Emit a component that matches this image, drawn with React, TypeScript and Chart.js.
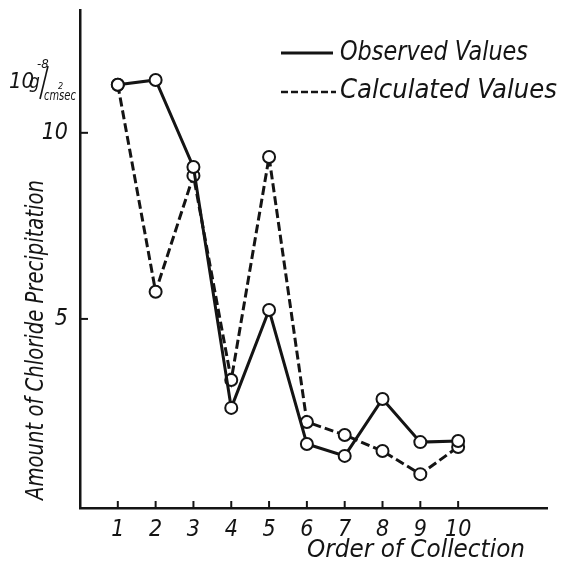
import React, { useEffect, useRef } from "react";
import { Chart, registerables } from "chart.js";

Chart.register(...registerables);

const collectionOrder = [1, 2, 3, 4, 5, 6, 7, 8, 9, 10];
const observedValues = [11.29, 11.42, 9.08, 2.61, 5.24, 1.64, 1.32, 2.85, 1.69, 1.72];
const calculatedValues = [11.29, 5.73, 8.85, 3.36, 9.35, 2.23, 1.88, 1.45, 0.83, 1.56];
const xTickLabels = ["1", "2", "3", "4", "5", "6", "7", "8", "9", "10"];
const yTickValues = [5, 10];
const seriesNames = ["Observed Values", "Calculated Values"];
const xTitle = "Order of Collection";
const yTitle = "Amount of Chloride Precipitation";

const FONT = '"Liberation Sans Narrow", "DejaVu Sans Condensed", sans-serif';
const INK = "#141414";

function fitText(ctx: CanvasRenderingContext2D, text: string, x: number, y: number, w: number) {
  const m = ctx.measureText(text).width;
  ctx.save();
  ctx.translate(x, y);
  ctx.scale(w / m, 1);
  ctx.fillText(text, 0, 0);
  ctx.restore();
}

const decor = {
  id: "decor",
  afterDraw(chart: any) {
    const ctx: CanvasRenderingContext2D = chart.ctx;
    const xs = chart.scales.x;
    const ys = chart.scales.y;
    const area = chart.chartArea;
    ctx.save();
    ctx.strokeStyle = INK;
    ctx.fillStyle = INK;
    ctx.lineWidth = 2;
    // inward tick marks
    collectionOrder.forEach((v) => {
      const px = xs.getPixelForValue(v);
      ctx.beginPath();
      ctx.moveTo(px, area.bottom);
      ctx.lineTo(px, area.bottom - 7);
      ctx.stroke();
    });
    yTickValues.forEach((v) => {
      const py = ys.getPixelForValue(v);
      ctx.beginPath();
      ctx.moveTo(area.left, py);
      ctx.lineTo(area.left + 8, py);
      ctx.stroke();
    });
    // legend
    ctx.lineWidth = 3;
    ctx.setLineDash([]);
    ctx.beginPath();
    ctx.moveTo(281, 53);
    ctx.lineTo(333, 53);
    ctx.stroke();
    ctx.lineWidth = 2.5;
    ctx.setLineDash([7, 3]);
    ctx.beginPath();
    ctx.moveTo(281, 92);
    ctx.lineTo(336, 92);
    ctx.stroke();
    ctx.setLineDash([]);
    ctx.textBaseline = "middle";
    ctx.textAlign = "left";
    ctx.font = `italic 26px ${FONT}`;
    fitText(ctx, seriesNames[0], 340, 53, 188);
    fitText(ctx, seriesNames[1], 340, 91, 217);
    // x title
    ctx.font = `italic 24px ${FONT}`;
    fitText(ctx, xTitle, 307, 551, 218);
    // y title
    ctx.save();
    ctx.translate(37, 500);
    ctx.rotate(-Math.PI / 2);
    ctx.font = `italic 24px ${FONT}`;
    fitText(ctx, yTitle, 0, 0, 320);
    ctx.restore();
    // units label
    ctx.textBaseline = "alphabetic";
    ctx.font = `italic 22px ${FONT}`;
    ctx.fillText("10", 9, 88);
    ctx.font = `italic 19px ${FONT}`;
    ctx.fillText("g", 29, 88);
    ctx.font = `italic 13px ${FONT}`;
    ctx.fillText("-8", 37, 68);
    ctx.lineWidth = 1.6;
    ctx.beginPath();
    ctx.moveTo(48, 66);
    ctx.lineTo(40, 99);
    ctx.stroke();
    ctx.font = `italic 14px ${FONT}`;
    fitText(ctx, "cm", 44, 100, 15);
    ctx.font = `italic 9px ${FONT}`;
    ctx.fillText("2", 58, 89);
    ctx.font = `italic 14px ${FONT}`;
    fitText(ctx, "sec", 59, 100, 17);
    ctx.restore();
  },
};

export default function App() {
  const ref = useRef<HTMLCanvasElement | null>(null);
  useEffect(() => {
    document.body.style.margin = "0";
    document.body.style.background = "#ffffff";
    const canvas = ref.current!;
    const chart = new Chart(canvas, {
      type: "line",
      data: {
        datasets: [
          {
            label: seriesNames[0],
            data: collectionOrder.map((x, i) => ({ x, y: observedValues[i] })),
            borderColor: INK,
            borderWidth: 3,
            pointRadius: 6,
            pointBorderWidth: 2,
            pointBackgroundColor: "#ffffff",
            pointBorderColor: INK,
            tension: 0,
          },
          {
            label: seriesNames[1],
            data: collectionOrder.map((x, i) => ({ x, y: calculatedValues[i] })),
            borderColor: INK,
            borderWidth: 3,
            borderDash: [9, 4],
            pointRadius: 6,
            pointBorderWidth: 2,
            pointBackgroundColor: "#ffffff",
            pointBorderColor: INK,
            tension: 0,
          },
        ],
      },
      options: {
        animation: false,
        responsive: false,
        maintainAspectRatio: false,
        layout: { padding: { top: 10, right: 14, left: 0, bottom: 0 } },
        plugins: { legend: { display: false }, tooltip: { enabled: false } },
        scales: {
          x: {
            type: "linear",
            min: 0,
            max: 12.35,
            grid: { display: false, drawTicks: false },
            border: { display: true, color: INK, width: 2.5 },
            afterBuildTicks: (s: any) => {
              s.ticks = collectionOrder.map((v) => ({ value: v }));
            },
            afterFit: (s: any) => {
              s.height = 56;
              s.paddingLeft = 0;
              s.paddingRight = 0;
            },
            ticks: {
              autoSkip: false,
              maxRotation: 0,
              padding: 8,
              color: INK,
              font: { family: FONT, size: 23, style: "italic" },
              callback: (v: any) => {
                const i = collectionOrder.indexOf(Number(v));
                return i >= 0 ? xTickLabels[i] : "";
              },
            },
          },
          y: {
            type: "linear",
            min: -0.08,
            max: 13.3,
            grid: { display: false, drawTicks: false },
            border: { display: true, color: INK, width: 2.5 },
            afterBuildTicks: (s: any) => {
              s.ticks = yTickValues.map((v) => ({ value: v }));
            },
            afterFit: (s: any) => {
              s.width = 80;
              s.paddingTop = 0;
              s.paddingBottom = 0;
            },
            ticks: {
              padding: 12,
              color: INK,
              font: { family: FONT, size: 23, style: "italic" },
            },
          },
        },
      },
      plugins: [decor],
    });
    return () => chart.destroy();
  }, []);
  return (
    <div style={{ position: "fixed", left: 0, top: 0, width: 561, height: 564, background: "#fff" }}>
      <canvas ref={ref} width={561} height={564} style={{ width: 561, height: 564, display: "block" }} />
    </div>
  );
}
